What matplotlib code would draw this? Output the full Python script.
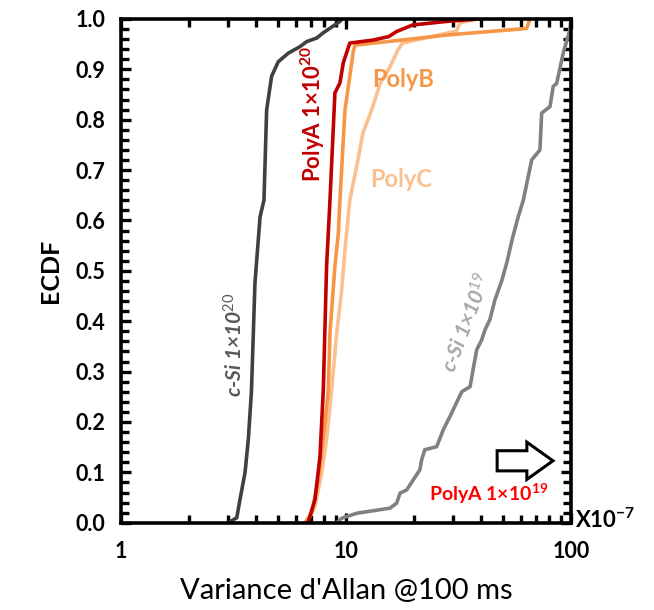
import matplotlib
matplotlib.use("Agg")
import matplotlib.pyplot as plt
from matplotlib.patches import Polygon
from matplotlib.ticker import FixedLocator, LogLocator, MultipleLocator, FormatStrFormatter, NullFormatter

plt.rcParams["font.family"] = ["Lato", "DejaVu Sans"]
plt.rcParams["mathtext.fontset"] = "custom"
plt.rcParams["mathtext.rm"] = "Lato"
plt.rcParams["mathtext.bf"] = "Lato:bold"
plt.rcParams["mathtext.it"] = "Lato:italic:bold"

# ECDF curves (variance in units of 1e-7)
csi20_var = [2.99, 3.27, 3.38, 3.56, 3.68, 3.8, 3.94, 4.15, 4.32, 4.44, 4.67, 5.0, 5.54, 6.25, 6.69, 7.41, 7.9, 9.4, 9.6]
csi20_ecdf = [0, 0.01, 0.046, 0.10, 0.165, 0.26, 0.476, 0.607, 0.64, 0.819, 0.886, 0.915, 0.932, 0.945, 0.955, 0.962, 0.972, 0.995, 1.0]

polya20_var = [6.78, 7.28, 7.66, 7.93, 8.2, 8.49, 8.93, 9.4, 9.73, 10.4, 13.2, 15.5, 16.8, 19.8, 28.0, 39.4]
polya20_ecdf = [0, 0.046, 0.13, 0.264, 0.509, 0.64, 0.853, 0.873, 0.913, 0.952, 0.958, 0.965, 0.975, 0.988, 0.995, 1.0]

polyb_var = [6.57, 7.04, 7.53, 8.07, 8.35, 8.49, 8.64, 8.93, 9.25, 9.4, 9.9, 10.4, 10.8, 11.0, 21.3, 28.0, 63.5, 65.8]
polyb_ecdf = [0, 0.019, 0.085, 0.198, 0.264, 0.377, 0.423, 0.509, 0.575, 0.64, 0.819, 0.886, 0.938, 0.948, 0.962, 0.968, 0.981, 1.0]

polyc_var = [6.7, 7.28, 7.8, 8.2, 8.64, 9.09, 9.57, 9.9, 10.4, 11.3, 11.9, 13.0, 14.2, 15.7, 17.0, 17.8, 31.0, 32.1, 38.1]
polyc_ecdf = [0, 0.032, 0.099, 0.165, 0.264, 0.376, 0.462, 0.542, 0.64, 0.72, 0.774, 0.819, 0.872, 0.905, 0.938, 0.952, 0.976, 0.992, 1.0]

csi19_var = [9.09, 9.57, 11.2, 15.7, 16.8, 17.4, 18.6, 19.9, 21.3, 21.7, 22.4, 25.3, 27.1, 29.0, 32.7, 35.6,
             38.1, 40.1, 41.5, 43.6, 45.9, 49.4, 52.0, 54.7, 58.1, 61.4, 66.9, 72.8, 74.1, 80.7, 83.4, 86.4,
             92.4, 98.8, 100.0]
csi19_ecdf = [0, 0.009, 0.019, 0.029, 0.039, 0.059, 0.065, 0.085, 0.105, 0.125, 0.145, 0.151, 0.185, 0.211, 0.26, 0.27,
              0.343, 0.363, 0.383, 0.403, 0.442, 0.482, 0.518, 0.561, 0.605, 0.64, 0.72, 0.74, 0.813, 0.826, 0.866, 0.872,
              0.932, 0.978, 1.0]

x_ticks = [1, 10, 100]
x_ticklabels = ["1", "10", "100"]

fig = plt.figure(figsize=(6.54, 6.10), dpi=100)
ax = fig.add_axes([0.185, 0.143, 0.688, 0.826])

lw = 2.6
ax.plot(csi19_var, csi19_ecdf, color="#808080", lw=lw)
ax.plot(csi20_var, csi20_ecdf, color="#404040", lw=lw)
ax.plot(polyc_var, polyc_ecdf, color="#FAC090", lw=lw)
ax.plot(polyb_var, polyb_ecdf, color="#F79646", lw=lw)
ax.plot(polya20_var, polya20_ecdf, color="#C00000", lw=lw)

ax.set_xscale("log")
ax.set_xlim(1, 100)
ax.set_ylim(0, 1)

ax.xaxis.set_major_locator(FixedLocator(x_ticks))
ax.set_xticklabels(x_ticklabels)
ax.xaxis.set_minor_locator(LogLocator(base=10, subs=range(2, 10)))
ax.xaxis.set_minor_formatter(NullFormatter())
ax.yaxis.set_major_locator(MultipleLocator(0.1))
ax.yaxis.set_minor_locator(MultipleLocator(0.02))
ax.yaxis.set_major_formatter(FormatStrFormatter("%.1f"))

for s in ax.spines.values():
    s.set_linewidth(2.6)
ax.tick_params(which="both", direction="in", top=True, right=True, width=2.4)
ax.tick_params(which="major", length=7)
ax.tick_params(which="minor", length=6)
ax.tick_params(axis="y", which="major", pad=11, labelsize=15.5)
ax.tick_params(axis="x", which="major", pad=13, labelsize=15.5)
for lab in ax.get_xticklabels() + ax.get_yticklabels():
    lab.set_fontweight("bold")

ax.set_ylabel("ECDF", fontsize=18, fontweight="bold", labelpad=10)
ax.set_xlabel("Variance d'Allan @100 ms", fontsize=21, labelpad=12)

# curve annotations
ax.text(0.427, 0.811, r"PolyA 1×10$^{\mathbf{20}}$", transform=ax.transAxes, rotation=90,
        color="#C00000", fontsize=16, fontweight="bold", ha="center", va="center")
ax.text(0.627, 0.879, "PolyB", transform=ax.transAxes, color="#F79646",
        fontsize=17, fontweight="bold", ha="center", va="center")
ax.text(0.622, 0.681, "PolyC", transform=ax.transAxes, color="#FAC090",
        fontsize=17, fontweight="bold", ha="center", va="center")
ax.text(0.253, 0.353, r"c-Si 1×10$^{\mathit{20}}$", transform=ax.transAxes, rotation=90,
        color="#595959", fontsize=15, ha="center", va="center", style="italic", fontweight="bold")
ax.text(0.769, 0.397, r"c-Si 1×10$^{\mathit{19}}$", transform=ax.transAxes, rotation=69,
        color="#A6A6A6", fontsize=15, ha="center", va="center", style="italic", fontweight="bold")
ax.text(0.816, 0.058, r"PolyA 1×10$^{\mathbf{19}}$", transform=ax.transAxes,
        color="#FF0000", fontsize=14, fontweight="bold", ha="center", va="center")

# hollow arrow pointing right
arrow = Polygon([(0.836, 0.103), (0.902, 0.103), (0.902, 0.086), (0.96, 0.123),
                 (0.902, 0.160), (0.902, 0.143), (0.836, 0.143)],
                closed=True, transform=ax.transAxes, facecolor="white",
                edgecolor="black", lw=2.2, clip_on=False)
ax.add_patch(arrow)

ax.text(1.01, 0.006, r"X10$^{\mathbf{-7}}$", transform=ax.transAxes, fontsize=16,
        fontweight="bold", ha="left", va="center")

fig.savefig("out.png", dpi=100)
